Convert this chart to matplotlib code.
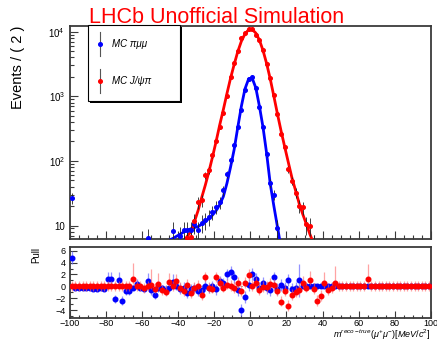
import numpy as np
import matplotlib
matplotlib.use("Agg")
import matplotlib.pyplot as plt
from matplotlib.patches import Rectangle
from matplotlib.ticker import MultipleLocator, FixedLocator, NullFormatter

plt.rcParams['font.family'] = ['Liberation Sans', 'DejaVu Sans']
plt.rcParams['mathtext.fontset'] = 'custom'
plt.rcParams['mathtext.rm'] = 'Liberation Sans'
plt.rcParams['mathtext.it'] = 'Liberation Sans:italic'

# ---- data ----
# main plot, bins of 2 MeV (centres)
blue_x = [-99, -57, -43, -39, -37, -35, -33, -31, -29, -27, -25, -23, -21, -19,
          -17, -15, -13, -11, -9, -7, -5, -3, -1, 1, 3, 5, 7, 9, 11, 13, 15]
blue_n = [27, 6.3, 8.3, 7, 8.5, 8.5, 8.5, 10.5, 8.5, 11, 12, 13.5, 16, 19.5,
          23, 35, 63, 102, 175, 340, 620, 1240, 1850, 1990, 1320, 670, 330, 126, 45, 30, 9]

red_x = [-37, -35, -33, -31, -29, -27, -25, -23, -21, -19, -17, -15, -13, -11, -9, -7,
         -5, -3, -1, 1, 3, 5, 7, 9, 11, 13, 15, 17, 19, 21, 23, 25, 27, 29, 31, 33, 35]
red_n = [5, 6.5, 6.7, 11.8, 23, 24.5, 60, 72, 123, 200, 340, 560, 1000, 1950, 3300, 5000,
         7900, 9500, 10900, 10800, 9000, 7400, 5200, 3200, 1900, 1040, 540, 262, 166, 74,
         49, 32, 20, 19, 10.4, 10, 5]

# fitted shapes
blue_fit_x = [-45, -43, -41, -39, -37, -35, -33, -31, -29, -27, -25, -23, -21, -19, -17,
              -15, -13, -11, -9, -7, -5, -3, -1, 1, 3, 5, 7, 9, 11, 13, 15, 17]
blue_fit = [5.9, 6.3, 6.8, 7.3, 7.9, 8.4, 8.9, 9.3, 9.6, 10.5, 11.5, 12.8, 14.5, 17, 21,
            28, 45, 80, 150, 330, 700, 1300, 1850, 1900, 1350, 700, 330, 130, 44, 20, 9.5, 4.5]

red_fit_x = [-39, -37, -35, -33, -31, -29, -27, -25, -23, -21, -19, -17, -15, -13, -11, -9,
             -7, -5, -3, -1, 1, 3, 5, 7, 9, 11, 13, 15, 17, 19, 21, 23, 25, 27, 29, 31, 33, 35, 37]
red_fit = [4.2, 5.5, 6.8, 8, 11.5, 17, 27, 42, 68, 115, 200, 360, 620, 1100, 1900, 3100,
           4900, 7100, 9200, 10700, 10800, 9500, 7400, 5100, 3200, 1850, 1000, 530, 290, 165,
           95, 55, 35, 22, 15, 10.5, 7.3, 5.3, 3.8]

# pull panel, all 100 bins from -99 to 99
pull_x = np.arange(-99, 100, 2)
blue_pull = [4.8, -0.3, -0.3, -0.3, -0.3, -0.3, -0.45, -0.45, -0.3, -0.4,
             1.2, 1.2, -2.2, 1.1, -2.4, -0.8, -0.8, -0.2, 0.4, -0.3,
             -0.5, 0.9, -0.7, -1.4, -0.3, -0.2, -0.6, -0.3, 0.8, 0.1,
             -0.4, -0.2, -1.2, -0.5, -0.3, -0.8, -0.7, 0.1, -0.3, 0.0,
             -0.5, 0.9, 0.5, 2.0, 2.4, 1.5, -0.6, -4.0, -1.8, 0.2,
             2.1, 1.2, -0.2, 0.5, -0.3, -0.7, 1.5, -0.5, 0.2, -0.3,
             1.0, -0.5, -0.2, 1.0, 0, 0, 0, 0, 0, 0,
             0, 0, 0, 0, 0, 0, 0, 0, 0, 0,
             0, 0, 0, 0, 0, 0, 0, 0, 0, 0,
             0, 0, 0, 0, 0, 0, 0, 0, 0, 0]
blue_perr = [1.1, 0.25, 0.25, 0.25, 0.25, 0.25, 0.3, 0.3, 0.25, 0.3,
             1.3, 1.3, 0.7, 1.3, 0.7, 0.6, 0.6, 0.5, 0.9, 0.4,
             0.4, 1.3, 0.8, 0.8, 0.6, 0.5, 0.8, 0.6, 1.2, 0.8,
             0.9, 0.9, 0.8, 0.9, 0.9, 0.9, 0.9, 0.9, 0.9, 0.9,
             0.9, 0.9, 0.9, 1.0, 1.0, 1.0, 1.0, 1.0, 1.0, 1.0,
             1.0, 1.0, 1.0, 1.0, 1.0, 1.0, 1.0, 1.0, 1.0, 1.0,
             1.0, 1.0, 1.0, 2.8, 0, 0, 0, 0, 0, 0,
             0, 0, 0, 0, 0, 0, 0, 0, 0, 0,
             0, 0, 0, 0, 0, 0, 0, 0, 0, 0,
             0, 0, 0, 0, 0, 0, 0, 0, 0, 0]
red_pull = [0, 0, 0, 0, 0, 0, 0, 0, 0, 0,
            0, 0, 0, 0, 0, 0, 0, 1.2, 0.0, 0.0,
            -0.3, 0.0, 0.3, -0.4, 0.4, -0.6, -0.9, 0.8, 0.0, 0.9,
            -0.2, -0.8, 0.3, -1.1, -0.3, 0.0, -1.5, 1.5, -0.3, -0.4,
            1.5, 0.5, -0.2, 0.3, 0.0, -0.3, 0.6, -0.8, 0.6, 1.9,
            0.0, 0.6, -0.7, -0.1, -0.1, 0.4, 0.2, -0.8, -2.6, -0.8,
            -3.3, -1.5, -1.0, -0.6, 0.6, -0.2, 1.0, -0.5, -2.5, -1.6,
            0.5, -0.6, -0.3, 0.5, 0, 0, 0, 0, 0, 0,
            0, 0, 1.2, 0, 0, 0, 0, 0, 0, 0,
            0, 0, 0, 0, 0, 0, 0, 0, 0, 0]
red_perr_hi = [0.9, 0.9, 0.9, 0.9, 0.9, 0.9, 0.9, 0.9, 0.9, 0.9,
               0.9, 0.9, 0.9, 0.9, 0.9, 0.9, 0.9, 2.8, 0.9, 0.9,
               0.9, 0.9, 2.7, 0.9, 1.9, 0.9, 0.9, 1.5, 0.9, 1.2,
               1.0, 1.0, 1.0, 1.0, 1.0, 1.0, 1.0, 1.0, 1.0, 1.0,
               1.0, 1.0, 1.0, 1.0, 1.0, 1.0, 1.0, 1.0, 1.0, 1.0,
               1.0, 1.0, 1.0, 1.0, 1.0, 1.0, 1.0, 1.0, 1.0, 1.0,
               1.0, 1.0, 1.0, 1.0, 1.2, 1.0, 1.6, 1.0, 1.0, 1.0,
               2.0, 1.0, 1.0, 3.0, 0.9, 0.9, 0.9, 0.9, 0.9, 0.9,
               0.9, 0.9, 2.6, 0.9, 0.9, 0.9, 0.9, 0.9, 0.9, 0.9,
               0.9, 0.9, 0.9, 0.9, 0.9, 0.9, 0.9, 0.9, 0.9, 0.9]
red_perr_lo = [0.8] * 100

BLUE = '#0000ff'
RED = '#ff0000'
FRAME = '#3a3a3a'

fig = plt.figure(figsize=(4.37, 3.41), dpi=100)
ax = fig.add_axes([0.160, 0.298, 0.826, 0.626])
axp = fig.add_axes([0.160, 0.0666, 0.826, 0.21])

# ---- main panel ----
ax.set_yscale('log')
ax.plot(blue_fit_x, blue_fit, color=BLUE, lw=2.0, zorder=3)
ax.plot(red_fit_x, red_fit, color=RED, lw=2.0, zorder=3)
ax.errorbar(blue_x, blue_n, yerr=np.sqrt(blue_n), fmt='o', color=BLUE, ms=2.6,
            ecolor='#222222', elinewidth=0.6, capsize=0, zorder=4)
ax.errorbar(red_x, red_n, yerr=np.sqrt(red_n), fmt='o', color=RED, ms=2.6,
            ecolor='#222222', elinewidth=0.6, capsize=0, zorder=4)

ax.set_xlim(-100, 100)
ax.set_ylim(6.1, 12250)
ax.yaxis.set_major_locator(FixedLocator([10, 100, 1000, 10000]))
ax.set_yticklabels(['10', '$10^2$', '$10^3$', '$10^4$'])
ax.yaxis.set_minor_locator(FixedLocator([m * 10 ** e for e in range(0, 5) for m in range(2, 10)]))
ax.yaxis.set_minor_formatter(NullFormatter())
ax.xaxis.set_major_locator(MultipleLocator(20))
ax.xaxis.set_minor_locator(MultipleLocator(5))
ax.tick_params(which='both', direction='in', top=False, right=False, labelbottom=False,
               color=FRAME, labelsize=7)
ax.tick_params(which='major', length=6, width=0.8)
ax.tick_params(which='minor', length=3, width=0.8)
ax.set_ylabel('Events / ( 2 )', fontsize=10.5, loc='top', labelpad=17)

# legend box with ROOT-like shadow
ax.add_patch(Rectangle((0.056, 0.637), 0.255, 0.36, transform=ax.transAxes,
                       facecolor='black', edgecolor='none', zorder=5, clip_on=False))
ax.add_patch(Rectangle((0.05, 0.65), 0.255, 0.352, transform=ax.transAxes,
                       facecolor='white', edgecolor='black', lw=0.8, zorder=6, clip_on=False))
for yy, col, lab in [(0.915, BLUE, 'MC πμμ'), (0.742, RED, 'MC J/ψπ')]:
    ax.plot([0.083, 0.083], [yy - 0.055, yy + 0.055], color='#555555', lw=0.8,
            transform=ax.transAxes, zorder=7, clip_on=False)
    ax.plot([0.083], [yy], 'o', color=col, ms=2.6, transform=ax.transAxes, zorder=8, clip_on=False)
    ax.text(0.116, yy, lab, transform=ax.transAxes, fontsize=7, style='italic',
            va='center', ha='left', zorder=8)

# ---- pull panel ----
axp.axhline(0, color='#999999', lw=0.6, ls=(0, (3, 3)), zorder=1)
axp.errorbar(pull_x, blue_pull, yerr=blue_perr, fmt='o', color=BLUE, ms=3.3,
             ecolor=(0.4, 0.4, 1.0, 0.7), elinewidth=0.9, capsize=0, zorder=3)
axp.errorbar(pull_x, red_pull, yerr=[red_perr_lo, red_perr_hi], fmt='o', color=RED, ms=3.3,
             ecolor=(1.0, 0.4, 0.4, 0.6), elinewidth=0.9, capsize=0, zorder=4)
axp.set_xlim(-100, 100)
axp.set_ylim(-5.4, 6.7)
axp.yaxis.set_major_locator(FixedLocator([-4, -2, 0, 2, 4, 6]))
axp.yaxis.set_minor_locator(MultipleLocator(1))
axp.xaxis.set_major_locator(MultipleLocator(20))
axp.xaxis.set_minor_locator(MultipleLocator(5))
axp.tick_params(which='both', direction='in', top=False, right=False, color=FRAME)
axp.tick_params(axis='y', labelsize=6.5, pad=3)
axp.tick_params(axis='x', labelsize=6.5, pad=0.5)
axp.tick_params(which='major', length=5, width=0.8)
axp.tick_params(which='minor', length=2.5, width=0.8)
axp.set_ylabel('Pull', fontsize=7, loc='top', labelpad=10)

for a in (ax, axp):
    for s in a.spines.values():
        s.set_color(FRAME)
        s.set_linewidth(1.3)

fig.text(0.495, 0.933, 'LHCb Unofficial Simulation', color=RED, fontsize=15.5,
         ha='center', va='baseline')
fig.text(0.985, 0.008, r'$m^{reco-true}(\mu^{+}\mu^{-})[MeV/c^{2}]$', fontsize=6.5,
         ha='right', va='baseline')

fig.savefig('out.png', dpi=100)
